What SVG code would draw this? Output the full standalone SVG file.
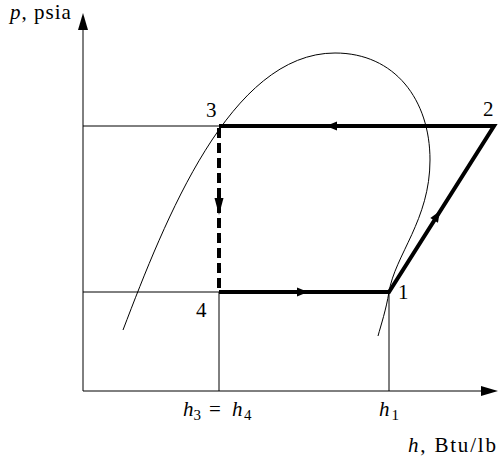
<svg xmlns="http://www.w3.org/2000/svg" width="499" height="460" viewBox="0 0 499 460">
<style>
.thin{stroke:#000;stroke-width:1;fill:none}
.thick{stroke:#000;stroke-width:4;fill:none;stroke-linejoin:miter;stroke-miterlimit:10}
.dash{stroke:#000;stroke-width:4;fill:none;stroke-dasharray:10 5}
.lbl{font-family:"Liberation Serif","Times New Roman",serif;font-size:21px;fill:#000}
.it{font-style:italic}
.sub{font-size:15px}
</style>
<defs>
<path id="ah" d="M0,0 L-11,-4.5 L-11,4.5 Z" fill="#000"/>
<path id="ahl" d="M0,0 L-17,-4.5 L-17,4.5 Z" fill="#000"/>
<path id="axa" d="M0,0 L-17,-5 L-17,5 Z" fill="#000"/>
</defs>
<rect width="499" height="460" fill="#fff"/>
<g id="axes">
<line class="thin" x1="83" y1="391" x2="83" y2="25"/>
<use href="#axa" transform="translate(83,13) rotate(-90)"/>
<line class="thin" x1="83" y1="391" x2="485" y2="391"/>
<use href="#axa" transform="translate(498,391)"/>
<text class="lbl" x="10" y="19" letter-spacing="1"><tspan class="it">p</tspan>, psia</text>
<text class="lbl" x="408" y="452" letter-spacing="1.8"><tspan class="it">h</tspan>, Btu/lb</text>
</g>
<g id="guides">
<line class="thin" x1="83" y1="126" x2="219" y2="126"/>
<line class="thin" x1="83" y1="292" x2="219" y2="292"/>
<line class="thin" x1="219" y1="292" x2="219" y2="391"/>
<line class="thin" x1="389" y1="292" x2="389" y2="391"/>
<text class="lbl" x="183" y="416"><tspan class="it">h</tspan><tspan class="sub" dy="4">3</tspan><tspan x="209" dy="-4">=</tspan><tspan class="it" x="232">h</tspan><tspan class="sub" x="244" dy="4">4</tspan></text>
<text class="lbl" x="379" y="416"><tspan class="it">h</tspan><tspan class="sub" dx="2" dy="4">1</tspan></text>
</g>
<g id="dome">
<path class="thin" d="M123,330 C165,220 230,53 335,53 C395,53 430,100 430,160 C430,220 395,255 389,292 C386,310 381,325 378,336"/>
</g>
<g id="connectors">
<path class="thick" d="M219,126 L494,126 L389,292 L219,292"/>
<line class="dash" x1="219" y1="128" x2="219" y2="292"/>
<use href="#ah" transform="translate(326,126) rotate(180)"/>
<use href="#ah" transform="translate(308,292)"/>
<use href="#ahl" transform="translate(219,215) rotate(90)"/>
<use href="#ah" transform="translate(440,211) rotate(-57.7)"/>
</g>
<g id="node1"><text class="lbl" x="398" y="299">1</text></g>
<g id="node2"><text class="lbl" x="483" y="116">2</text></g>
<g id="node3"><text class="lbl" x="206" y="117">3</text></g>
<g id="node4"><text class="lbl" x="196" y="317">4</text></g>
</svg>
